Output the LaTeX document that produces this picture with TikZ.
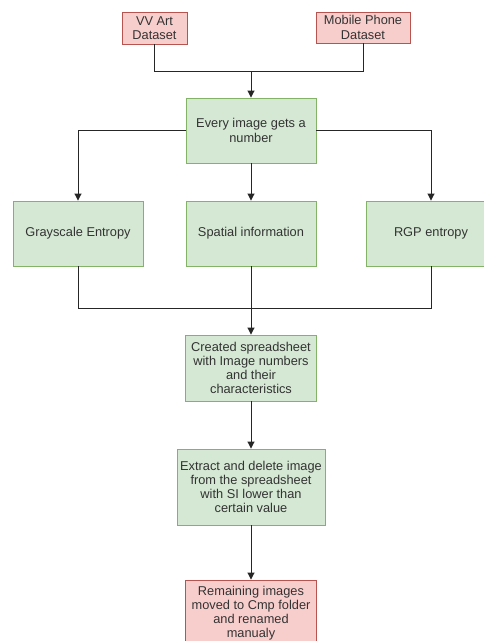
\documentclass[tikz,border=0pt]{standalone}
\usepackage{fontspec}
\setmainfont{Liberation Sans}
\usetikzlibrary{arrows.meta}
\definecolor{gfill}{HTML}{D5E8D4}
\definecolor{gline}{HTML}{82B366}
\definecolor{rfill}{HTML}{F8CECC}
\definecolor{rline}{HTML}{B85450}
\definecolor{txt}{HTML}{333333}
\tikzset{
  box/.style={draw, line width=0.9pt, align=center, inner sep=1pt, text=txt,
    font=\fontsize{12.8}{14.2}\selectfont},
  greenbox/.style={box, fill=gfill, draw=gline},
  redbox/.style={box, fill=rfill, draw=rline},
  conn/.style={draw=black!85, line width=0.9pt},
  arr/.style={conn, -{Triangle[length=7pt,width=7pt]}},
}
\begin{document}
\begin{tikzpicture}[x=1pt,y=-1pt]
\useasboundingbox (0,0) rectangle (484,641);
\clip (0,0) rectangle (484,641);
\fill[white] (0,0) rectangle (484,641);
\node[redbox, minimum width=65pt, minimum height=32pt] (vv) at (154.5,28) {VV Art\\Dataset};
\node[redbox, minimum width=94pt, minimum height=31pt] (mob) at (363,27.5) {Mobile Phone\\Dataset};
\node[greenbox, minimum width=130pt, minimum height=65pt] (every) at (251,130.5) {Every image gets a\\number};
\node[greenbox, minimum width=130pt, minimum height=65pt] (gray) at (78,233.5) {Grayscale Entropy};
\node[greenbox, minimum width=130pt, minimum height=65pt] (spat) at (251,233.5) {Spatial information};
\node[greenbox, minimum width=130pt, minimum height=65pt] (rgp) at (431,233.5) {RGP entropy};
\node[greenbox, minimum width=131pt, minimum height=66pt] (sheet) at (251,368) {Created spreadsheet\\with Image numbers\\and their\\characteristics};
\node[greenbox, minimum width=148pt, minimum height=76pt] (extr) at (251,487) {Extract and delete image\\from the spreadsheet\\with SI lower than\\certain value};
\node[redbox, minimum width=131pt, minimum height=66pt] (rem) at (251,613) {Remaining images\\moved to Cmp folder\\and renamed\\manualy};
\coordinate (m1) at (251,71);
\coordinate (m2) at (251,308);
\draw[conn] (vv.south) |- (m1);
\draw[conn] (mob.south) |- (m1);
\draw[arr] (m1) -- (every.north);
\draw[arr] (every.west) -| (gray.north);
\draw[arr] (every.east) -| (rgp.north);
\draw[arr] (every.south) -- (spat.north);
\draw[conn] (gray.south) |- (m2);
\draw[conn] (rgp.south) |- (m2);
\draw[conn] (spat.south) -- (m2);
\draw[arr] (m2) -- (sheet.north);
\draw[arr] (sheet.south) -- (extr.north);
\draw[arr] (extr.south) -- (rem.north);
\end{tikzpicture}
\end{document}
